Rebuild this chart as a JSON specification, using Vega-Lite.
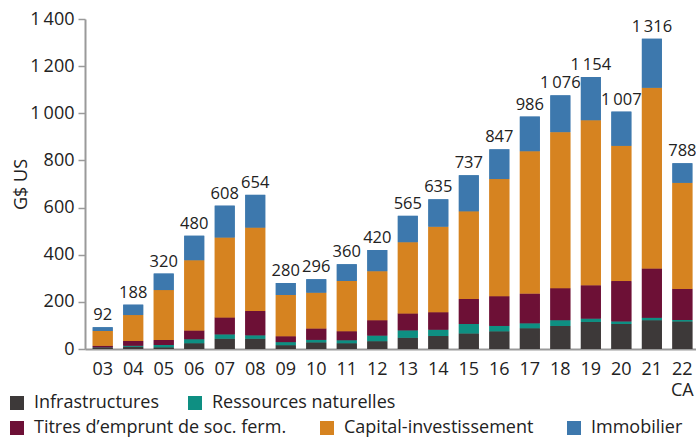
{
  "$schema": "https://vega.github.io/schema/vega-lite/v6.json",
  "autosize": {"type": "none"},
  "padding": {"left": 85, "top": 19, "right": 0, "bottom": 89},
  "width": 611,
  "height": 330,
  "background": "white",
  "config": {
    "font": "Open Sans",
    "view": {"stroke": null},
    "locale": {"number": {"decimal": ",", "thousands": "\u2009", "grouping": [3], "currency": ["", " $"]}}
  },
  "datasets": {
    "seg": [
      {"yr":"03","cat":"Infrastructures","k":1,"v":4},{"yr":"03","cat":"Ressources naturelles","k":2,"v":2},{"yr":"03","cat":"Titres d’emprunt de soc. ferm.","k":3,"v":8},{"yr":"03","cat":"Capital-investissement","k":4,"v":62},{"yr":"03","cat":"Immobilier","k":5,"v":16},
      {"yr":"04","cat":"Infrastructures","k":1,"v":10},{"yr":"04","cat":"Ressources naturelles","k":2,"v":4},{"yr":"04","cat":"Titres d’emprunt de soc. ferm.","k":3,"v":20},{"yr":"04","cat":"Capital-investissement","k":4,"v":110},{"yr":"04","cat":"Immobilier","k":5,"v":44},
      {"yr":"05","cat":"Infrastructures","k":1,"v":7},{"yr":"05","cat":"Ressources naturelles","k":2,"v":10},{"yr":"05","cat":"Titres d’emprunt de soc. ferm.","k":3,"v":21},{"yr":"05","cat":"Capital-investissement","k":4,"v":212},{"yr":"05","cat":"Immobilier","k":5,"v":70},
      {"yr":"06","cat":"Infrastructures","k":1,"v":24},{"yr":"06","cat":"Ressources naturelles","k":2,"v":17},{"yr":"06","cat":"Titres d’emprunt de soc. ferm.","k":3,"v":37},{"yr":"06","cat":"Capital-investissement","k":4,"v":298},{"yr":"06","cat":"Immobilier","k":5,"v":104},
      {"yr":"07","cat":"Infrastructures","k":1,"v":44},{"yr":"07","cat":"Ressources naturelles","k":2,"v":18},{"yr":"07","cat":"Titres d’emprunt de soc. ferm.","k":3,"v":72},{"yr":"07","cat":"Capital-investissement","k":4,"v":339},{"yr":"07","cat":"Immobilier","k":5,"v":135},
      {"yr":"08","cat":"Infrastructures","k":1,"v":44},{"yr":"08","cat":"Ressources naturelles","k":2,"v":14},{"yr":"08","cat":"Titres d’emprunt de soc. ferm.","k":3,"v":103},{"yr":"08","cat":"Capital-investissement","k":4,"v":354},{"yr":"08","cat":"Immobilier","k":5,"v":139},
      {"yr":"09","cat":"Infrastructures","k":1,"v":16},{"yr":"09","cat":"Ressources naturelles","k":2,"v":13},{"yr":"09","cat":"Titres d’emprunt de soc. ferm.","k":3,"v":25},{"yr":"09","cat":"Capital-investissement","k":4,"v":175},{"yr":"09","cat":"Immobilier","k":5,"v":51},
      {"yr":"10","cat":"Infrastructures","k":1,"v":28},{"yr":"10","cat":"Ressources naturelles","k":2,"v":11},{"yr":"10","cat":"Titres d’emprunt de soc. ferm.","k":3,"v":48},{"yr":"10","cat":"Capital-investissement","k":4,"v":152},{"yr":"10","cat":"Immobilier","k":5,"v":57},
      {"yr":"11","cat":"Infrastructures","k":1,"v":24},{"yr":"11","cat":"Ressources naturelles","k":2,"v":13},{"yr":"11","cat":"Titres d’emprunt de soc. ferm.","k":3,"v":38},{"yr":"11","cat":"Capital-investissement","k":4,"v":213},{"yr":"11","cat":"Immobilier","k":5,"v":72},
      {"yr":"12","cat":"Infrastructures","k":1,"v":33},{"yr":"12","cat":"Ressources naturelles","k":2,"v":24},{"yr":"12","cat":"Titres d’emprunt de soc. ferm.","k":3,"v":65},{"yr":"12","cat":"Capital-investissement","k":4,"v":208},{"yr":"12","cat":"Immobilier","k":5,"v":90},
      {"yr":"13","cat":"Infrastructures","k":1,"v":48},{"yr":"13","cat":"Ressources naturelles","k":2,"v":31},{"yr":"13","cat":"Titres d’emprunt de soc. ferm.","k":3,"v":72},{"yr":"13","cat":"Capital-investissement","k":4,"v":302},{"yr":"13","cat":"Immobilier","k":5,"v":112},
      {"yr":"14","cat":"Infrastructures","k":1,"v":55},{"yr":"14","cat":"Ressources naturelles","k":2,"v":27},{"yr":"14","cat":"Titres d’emprunt de soc. ferm.","k":3,"v":74},{"yr":"14","cat":"Capital-investissement","k":4,"v":363},{"yr":"14","cat":"Immobilier","k":5,"v":116},
      {"yr":"15","cat":"Infrastructures","k":1,"v":66},{"yr":"15","cat":"Ressources naturelles","k":2,"v":40},{"yr":"15","cat":"Titres d’emprunt de soc. ferm.","k":3,"v":106},{"yr":"15","cat":"Capital-investissement","k":4,"v":372},{"yr":"15","cat":"Immobilier","k":5,"v":153},
      {"yr":"16","cat":"Infrastructures","k":1,"v":75},{"yr":"16","cat":"Ressources naturelles","k":2,"v":23},{"yr":"16","cat":"Titres d’emprunt de soc. ferm.","k":3,"v":126},{"yr":"16","cat":"Capital-investissement","k":4,"v":497},{"yr":"16","cat":"Immobilier","k":5,"v":126},
      {"yr":"17","cat":"Infrastructures","k":1,"v":88},{"yr":"17","cat":"Ressources naturelles","k":2,"v":21},{"yr":"17","cat":"Titres d’emprunt de soc. ferm.","k":3,"v":126},{"yr":"17","cat":"Capital-investissement","k":4,"v":604},{"yr":"17","cat":"Immobilier","k":5,"v":147},
      {"yr":"18","cat":"Infrastructures","k":1,"v":98},{"yr":"18","cat":"Ressources naturelles","k":2,"v":24},{"yr":"18","cat":"Titres d’emprunt de soc. ferm.","k":3,"v":136},{"yr":"18","cat":"Capital-investissement","k":4,"v":662},{"yr":"18","cat":"Immobilier","k":5,"v":156},
      {"yr":"19","cat":"Infrastructures","k":1,"v":115},{"yr":"19","cat":"Ressources naturelles","k":2,"v":14},{"yr":"19","cat":"Titres d’emprunt de soc. ferm.","k":3,"v":141},{"yr":"19","cat":"Capital-investissement","k":4,"v":700},{"yr":"19","cat":"Immobilier","k":5,"v":184},
      {"yr":"20","cat":"Infrastructures","k":1,"v":106},{"yr":"20","cat":"Ressources naturelles","k":2,"v":11},{"yr":"20","cat":"Titres d’emprunt de soc. ferm.","k":3,"v":171},{"yr":"20","cat":"Capital-investissement","k":4,"v":574},{"yr":"20","cat":"Immobilier","k":5,"v":145},
      {"yr":"21","cat":"Infrastructures","k":1,"v":122},{"yr":"21","cat":"Ressources naturelles","k":2,"v":11},{"yr":"21","cat":"Titres d’emprunt de soc. ferm.","k":3,"v":209},{"yr":"21","cat":"Capital-investissement","k":4,"v":766},{"yr":"21","cat":"Immobilier","k":5,"v":208},
      {"yr":"22 CA","cat":"Infrastructures","k":1,"v":117},{"yr":"22 CA","cat":"Ressources naturelles","k":2,"v":6},{"yr":"22 CA","cat":"Titres d’emprunt de soc. ferm.","k":3,"v":132},{"yr":"22 CA","cat":"Capital-investissement","k":4,"v":450},{"yr":"22 CA","cat":"Immobilier","k":5,"v":83}
    ],
    "tot": [
      {"yr":"03","t":92},{"yr":"04","t":188},{"yr":"05","t":320},{"yr":"06","t":480},{"yr":"07","t":608},
      {"yr":"08","t":654},{"yr":"09","t":280},{"yr":"10","t":296},{"yr":"11","t":360},{"yr":"12","t":420},
      {"yr":"13","t":565},{"yr":"14","t":635},{"yr":"15","t":737},{"yr":"16","t":847},{"yr":"17","t":986},
      {"yr":"18","t":1076},{"yr":"19","t":1154},{"yr":"20","t":1007},{"yr":"21","t":1316},{"yr":"22 CA","t":788}
    ]
  },
  "encoding": {
    "x": {
      "field": "yr", "type": "nominal", "sort": null, "title": null,
      "scale": {"paddingInner": 0.345, "paddingOuter": 0.186, "align": 0.68},
      "axis": {
        "labelAngle": 0, "ticks": false, "domainColor": "#9a9a9a", "domainWidth": 2,
        "labelFontSize": 18, "labelColor": "#222222", "labelPadding": 11, "labelLineHeight": 21,
        "labelExpr": "datum.value == '22 CA' ? ['22', 'CA'] : datum.label"
      }
    }
  },
  "layer": [
    {
      "data": {"name": "seg"},
      "mark": {"type": "bar"},
      "encoding": {
        "y": {"field": "v", "type": "quantitative", "stack": "zero"},
        "order": {"field": "k", "type": "quantitative"},
        "color": {
          "field": "cat", "type": "nominal",
          "scale": {
            "domain": ["Infrastructures", "Ressources naturelles", "Titres d’emprunt de soc. ferm.", "Capital-investissement", "Immobilier"],
            "range": ["#3d3939", "#0e8f82", "#6d1036", "#d68320", "#3d78ad"]
          },
          "legend": {
            "values": ["Titres d’emprunt de soc. ferm.", "Capital-investissement", "Immobilier"],
            "title": null, "orient": "none", "legendX": -77, "legendY": 400,
            "direction": "horizontal", "symbolType": "square", "symbolSize": 196,
            "symbolStrokeWidth": 0, "labelFontSize": 18, "labelColor": "#222222",
            "labelOffset": 8, "columnPadding": 31, "padding": 0, "labelLimit": 400
          }
        }
      }
    },
    {
      "data": {"name": "seg"},
      "mark": {"type": "bar"},
      "encoding": {
        "y": {
          "field": "v", "type": "quantitative", "stack": "zero", "title": "G$ US",
          "scale": {"domain": [0, 1400]},
          "axis": {
            "values": [0, 200, 400, 600, 800, 1000, 1200, 1400],
            "labelExpr": "format(datum.value, ',d')",
            "grid": false, "domainColor": "#9a9a9a", "domainWidth": 2,
            "tickColor": "#9a9a9a", "tickWidth": 1.5, "tickSize": 7,
            "labelFontSize": 18, "labelColor": "#222222", "labelPadding": 4,
            "titleFontSize": 18, "titleFontWeight": "normal", "titleColor": "#222222",
            "titleX": -64, "titleBaseline": "middle"
          }
        },
        "order": {"field": "k", "type": "quantitative"},
        "color": {
          "field": "cat", "type": "nominal",
          "legend": {
            "values": ["Infrastructures", "Ressources naturelles"],
            "title": null, "orient": "none", "legendX": -77, "legendY": 375,
            "direction": "horizontal", "symbolType": "square", "symbolSize": 196,
            "symbolStrokeWidth": 0, "labelFontSize": 18, "labelColor": "#222222",
            "labelOffset": 8, "columnPadding": 27, "padding": 0, "labelLimit": 400
          }
        }
      }
    },
    {
      "data": {"name": "tot"},
      "mark": {"type": "text", "baseline": "alphabetic", "dy": -7, "fontSize": 16.5, "color": "#222222"},
      "encoding": {
        "y": {"field": "t", "type": "quantitative"},
        "text": {"field": "t", "type": "quantitative", "format": ","}
      }
    }
  ],
  "resolve": {"legend": {"color": "independent"}}
}
